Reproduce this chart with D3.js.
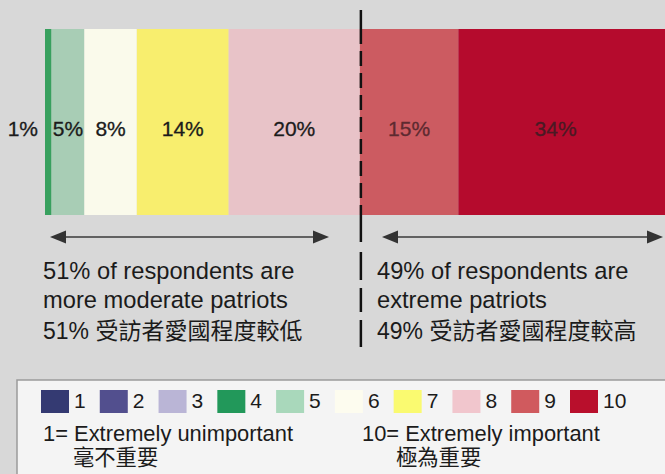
<!DOCTYPE html>
<html>
<head>
<meta charset="utf-8">
<script src="https://cdn.jsdelivr.net/npm/d3@7"></script>
<style>
  html, body { margin: 0; padding: 0; background: #d8d8d8; }
  svg { display: block; }
</style>
</head>
<body>
<svg id="chart" width="665" height="474"></svg>
<script>
// ---- data ----
const categories = ["1", "2", "3", "4", "5", "6", "7", "8", "9", "10"];
const categoryColors = ["#343a72", "#524f8e", "#bab5d6", "#22985a", "#a9d8bb", "#fdfcef", "#fafa70", "#f1c6cd", "#d05a5e", "#b90f2c"];
const barCategories = ["4", "5", "6", "7", "8", "9", "10"];
const barColors = ["#38a05e", "#a8cdb5", "#fafaeb", "#f8ee6e", "#e8c3c8", "#cc5b61", "#b50b2d"];
const barValues = [1, 5, 8, 14, 20, 15, 34];
const barLabels = ["1%", "5%", "8%", "14%", "20%", "15%", "34%"];
const groupShares = ["51%", "49%"];
const groupTextsEn = [["51% of respondents are", "more moderate patriots"], ["49% of respondents are", "extreme patriots"]];
const groupTextsZh = ["51% 受訪者愛國程度較低", "49% 受訪者愛國程度較高"];
const legendNotes = [["1= Extremely unimportant", "毫不重要"], ["10= Extremely important", "極為重要"]];

const W = 665, H = 474;
const svg = d3.select("#chart");
const FONT = "'Liberation Sans', Arial, sans-serif";
const CJK = "'Liberation Sans', 'Noto Sans CJK TC', sans-serif";
const TXT = "#1b1b1b";

// ---- stacked bar ----
const x = d3.scaleLinear().domain([0, 100]).range([45, 701]);
const y = d3.scaleBand().domain(["all"]).range([29, 215]).padding(0);

let cum = 0;
const segs = barValues.map((v, i) => {
  const s = { cat: barCategories[i], v, x0: cum, x1: cum + v, color: barColors[i], label: barLabels[i] };
  cum += v;
  return s;
});

svg.append("g").selectAll("rect").data(segs).join("rect")
  .attr("x", d => x(d.x0))
  .attr("y", y("all"))
  .attr("width", d => Math.min(x(d.x1), W) - x(d.x0))
  .attr("height", y.bandwidth())
  .attr("fill", d => d.color);

const labelColors = [TXT, TXT, TXT, TXT, TXT, "#5d2a30", "#4a1a24"];
svg.append("g").selectAll("text").data(segs).join("text")
  .attr("x", (d, i) => i === 0 ? x(d.x0) - 7 : (x(d.x0) + Math.min(x(d.x1), W)) / 2 - (i === 6 ? 6 : 0))
  .attr("y", y("all") + y.bandwidth() / 2 + 14)
  .attr("text-anchor", (d, i) => i === 0 ? "end" : "middle")
  .attr("font-family", FONT)
  .attr("font-size", 21)
  .attr("fill", (d, i) => labelColors[i])
  .attr("stroke", (d, i) => labelColors[i])
  .attr("stroke-width", 0.3)
  .text(d => d.label);

// ---- divider ----
const splitX = x(barValues.slice(0, 5).reduce((a, b) => a + b, 0)) + 1;
const div = svg.append("g").attr("stroke", "#111").attr("stroke-width", 2.5);
div.append("line").attr("x1", splitX).attr("x2", splitX).attr("y1", 10).attr("y2", 29);
div.append("line").attr("x1", splitX).attr("x2", splitX).attr("y1", 29).attr("y2", 215).attr("stroke-dasharray", "15,7");
div.append("line").attr("x1", splitX).attr("x2", splitX).attr("y1", 215).attr("y2", 242);
[[252, 280], [288, 312], [320, 347]].forEach(([a, b]) =>
  div.append("line").attr("x1", splitX).attr("x2", splitX).attr("y1", a).attr("y2", b));

// ---- arrows ----
function arrow(x0, x1, yy) {
  const g = svg.append("g");
  g.append("line").attr("x1", x0 + 10).attr("x2", x1 - 10).attr("y1", yy).attr("y2", yy)
    .attr("stroke", "#3a3a3a").attr("stroke-width", 1.4);
  g.append("path").attr("d", `M${x0},${yy} L${x0 + 16},${yy - 6.5} L${x0 + 16},${yy + 6.5} Z`).attr("fill", "#333");
  g.append("path").attr("d", `M${x1},${yy} L${x1 - 16},${yy - 6.5} L${x1 - 16},${yy + 6.5} Z`).attr("fill", "#333");
}
arrow(50, 329, 237);
arrow(382, 663, 237);

// ---- group texts ----
const textX = [43, 377];
groupTextsEn.forEach((lines, gi) => {
  lines.forEach((t, li) => {
    svg.append("text").attr("x", textX[gi]).attr("y", 279 + li * 29)
      .attr("font-family", FONT).attr("font-size", 23.7).attr("fill", TXT).text(t);
  });
  svg.append("text").attr("x", textX[gi]).attr("y", 339)
    .attr("font-family", CJK).attr("font-size", 23).attr("fill", TXT).text(groupTextsZh[gi]);
});

// ---- legend ----
const lg = svg.append("g");
lg.append("rect").attr("x", 17).attr("y", 380).attr("width", 700).attr("height", 120)
  .attr("fill", "#f4f4f4").attr("stroke", "#9a9a9a").attr("stroke-width", 1.5);

const lx = d3.scalePoint().domain(categories).range([41, 570]);
const items = lg.selectAll("g.item").data(categories).join("g").attr("class", "item")
  .attr("transform", d => `translate(${lx(d)},390)`);
items.append("rect").attr("width", 28).attr("height", 23).attr("fill", (d, i) => categoryColors[i]);
items.append("text").attr("x", 33).attr("y", 18)
  .attr("font-family", FONT).attr("font-size", 21).attr("fill", TXT).text(d => d);

const noteX = [[43, 73], [362, 396]];
legendNotes.forEach((n, i) => {
  lg.append("text").attr("x", noteX[i][0]).attr("y", 441)
    .attr("font-family", FONT).attr("font-size", 21.9).attr("fill", TXT).text(n[0]);
  lg.append("text").attr("x", noteX[i][1]).attr("y", 465)
    .attr("font-family", CJK).attr("font-size", 21.3).attr("fill", TXT).text(n[1]);
});
</script>
</body>
</html>
